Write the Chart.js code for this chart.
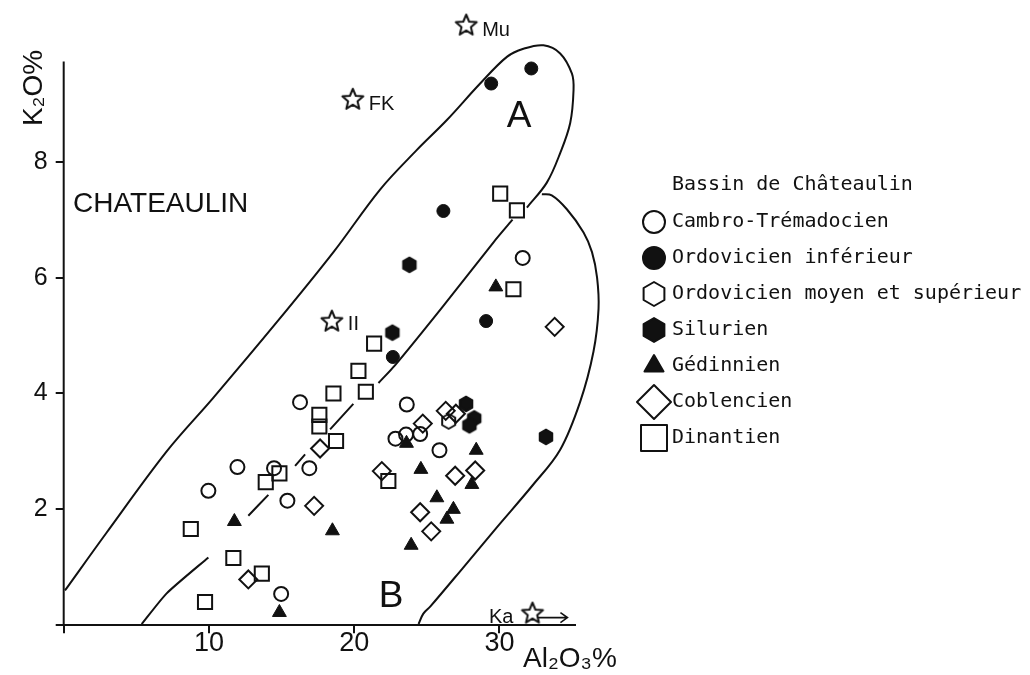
<!DOCTYPE html>
<html>
<head>
<meta charset="utf-8">
<script src="https://cdn.jsdelivr.net/npm/chart.js@4.4.1/dist/chart.umd.min.js"></script>
<style>
html,body{margin:0;padding:0;background:#fff;}
canvas{display:block;}
</style>
</head>
<body>
<canvas id="c" width="1030" height="675"></canvas>
<script>
// ---------- DATA (Al2O3 %, K2O %) ----------
const cambroTremadocien = [[31.6,6.34],[23.62,3.81],[22.84,3.22],[23.57,3.29],[24.54,3.30],[25.87,3.02],[9.96,2.32],[11.96,2.73],[14.97,0.54],[15.4,2.15],[14.48,2.71],[16.91,2.71],[16.27,3.85]];
const ordovicienInferieur = [[29.43,9.35],[32.19,9.61],[26.14,7.15],[29.08,5.25],[22.66,4.63]];
const ordovicienMoyenSup = [[26.5,3.52]];
const silurien = [[23.8,6.22],[22.63,5.05],[27.7,3.82],[28.26,3.57],[27.93,3.45],[33.2,3.25]];
const gedinnien = [[29.75,5.84],[23.6,3.14],[28.4,3.02],[24.59,2.69],[28.1,2.43],[25.69,2.20],[26.83,2.0],[26.38,1.83],[23.92,1.38],[18.5,1.63],[11.75,1.79],[14.85,0.22]];
const coblencien = [[33.8,5.15],[26.3,3.70],[27.0,3.65],[24.72,3.48],[28.33,2.67],[26.95,2.58],[21.9,2.66],[24.54,1.95],[25.3,1.62],[17.65,3.05],[17.24,2.06],[12.71,0.79]];
const dinantien = [[30.05,7.45],[31.2,7.16],[30.96,5.80],[21.37,4.86],[20.29,4.39],[18.57,4.0],[20.8,4.03],[17.6,3.63],[17.6,3.43],[18.75,3.18],[22.35,2.49],[8.75,1.66],[11.68,1.16],[13.64,0.89],[9.73,0.40],[13.91,2.47],[14.85,2.62]];
// reference minerals
const mineralNames = ['Mu','FK','II','Ka'];
const minerals = [[27.71,10.35],[19.9,9.07],[18.46,5.24],[32.27,0.20]];
// field boundaries
const boundaryA = [[0.09,0.60],[2.96,1.60],[7.09,3.0],[10.28,3.92],[14.67,5.23],[18.57,6.44],[21.78,7.52],[24.3,8.2],[26.38,8.72],[28.67,9.35],[30.51,9.81],[31.65,9.95],[33.03,10.01],[34.18,9.87],[34.99,9.52],[35.1,9.24],[34.87,8.67],[34.18,8.15],[33.26,7.64],[31.89,7.21]];
const boundaryAB = [[5.37,0.02],[7.09,0.55],[9.96,1.17],null,[12.71,1.89],[14.09,2.25],null,[15.93,2.75],[16.62,2.95],null,[18.34,3.38],[19.94,3.82],null,[21.67,4.18],[22.82,4.49],[26.0,5.47],[29.59,6.61],[30.9,7.0]];
const boundaryB = [[24.43,0.02],[24.76,0.2],[25.23,0.32],[27.52,1.0],[29.82,1.69],[32.3,2.42],[34.18,3.03],[35.56,3.86],[36.47,4.72],[36.82,5.46],[36.72,6.0],[36.37,6.44],[35.79,6.78],[34.64,7.18],[33.6,7.42],[32.92,7.44]];
const yAxisLine = [[0,0],[0,9.73]];
const xTicks = [0,10,20,30];
const yTicks = [0,2,4,6,8];
const legendTitle = 'Bassin de Châteaulin';

// ---------- helpers ----------
const pts = a => a.map(p => p ? {x:p[0], y:p[1]} : {x:null, y:null});
function shapePath(g, kind, x, y, r){
  g.beginPath();
  if (kind === 'circle') { g.arc(x, y, r, 0, Math.PI*2); }
  else if (kind === 'hex') {
    for (let i=0;i<6;i++){ const a = Math.PI/6 + i*Math.PI/3; const px=x+r*Math.cos(a), py=y+r*Math.sin(a); i?g.lineTo(px,py):g.moveTo(px,py); }
    g.closePath();
  } else if (kind === 'triangle') {
    for (let i=0;i<3;i++){ const a = -Math.PI/2 + i*2*Math.PI/3; const px=x+r*Math.cos(a), py=y+r*Math.sin(a); i?g.lineTo(px,py):g.moveTo(px,py); }
    g.closePath();
  } else if (kind === 'diamond') {
    g.moveTo(x, y-r); g.lineTo(x+r, y); g.lineTo(x, y+r); g.lineTo(x-r, y); g.closePath();
  } else if (kind === 'square') {
    g.rect(x-r, y-r, 2*r, 2*r);
  } else if (kind === 'star') {
    for (let i=0;i<10;i++){ const a = -Math.PI/2 + i*Math.PI/5; const rr = i%2 ? r*0.45 : r; const px=x+rr*Math.cos(a), py=y+rr*Math.sin(a); i?g.lineTo(px,py):g.moveTo(px,py); }
    g.closePath();
  }
}
function drawShape(g, kind, x, y, r, filled, lw){
  shapePath(g, kind, x, y, r);
  g.lineJoin = 'round';
  if (filled) { g.fillStyle = '#111'; g.fill(); }
  g.lineWidth = lw; g.strokeStyle = '#111'; g.stroke();
}
function shapeCanvas(kind, r, filled, lw){
  const s = Math.ceil(2*r + 2*lw + 4);
  const c = document.createElement('canvas'); c.width = s; c.height = s;
  drawShape(c.getContext('2d'), kind, s/2, s/2, r, filled, lw);
  return c;
}
const hexOpen = shapeCanvas('hex', 7.5, false, 2);
const hexFilled = shapeCanvas('hex', 7.5, true, 1.5);
const starImg = shapeCanvas('star', 11, false, 2);

const legendItems = [
  {label:'Cambro-Trémadocien', kind:'circle', r:11, filled:false},
  {label:'Ordovicien inférieur', kind:'circle', r:11, filled:true},
  {label:'Ordovicien moyen et supérieur', kind:'hex', r:12, filled:false},
  {label:'Silurien', kind:'hex', r:12, filled:true},
  {label:'Gédinnien', kind:'triangle', r:11, filled:true},
  {label:'Coblencien', kind:'diamond', r:17, filled:false},
  {label:'Dinantien', kind:'square', r:13, filled:false}
];

const pointDs = (label, data, style) => Object.assign({
  label, data: pts(data), showLine:false, clip:false,
  borderColor:'#111', backgroundColor:'rgba(0,0,0,0)', borderWidth:2, pointRadius:7
}, style);
const lineDs = (label, data, style) => Object.assign({
  label, data: pts(data), showLine:true, clip:false, pointRadius:0,
  borderColor:'#111', borderWidth:2, tension:0.35, spanGaps:false, fill:false
}, style);

// ---------- plugins ----------
const annotations = {
  id:'annotations',
  afterDatasetsDraw(chart){
    const {ctx} = chart; const xs = chart.scales.x, ys = chart.scales.y;
    ctx.save();
    ctx.fillStyle = '#111'; ctx.strokeStyle = '#111';
    // axis titles
    ctx.font = '28px "Liberation Sans",sans-serif';
    ctx.textAlign = 'left'; ctx.textBaseline = 'alphabetic';
    ctx.fillText('Al₂O₃%', 523, 667);
    ctx.save();
    ctx.translate(42, 88); ctx.rotate(-Math.PI/2);
    ctx.textAlign = 'center';
    ctx.fillText('K₂O%', 0, 0);
    ctx.restore();
    // basin name
    ctx.fillText('CHATEAULIN', 73, 212);
    // field labels
    ctx.font = '37px "Liberation Sans",sans-serif';
    ctx.textAlign = 'center';
    ctx.fillText('A', 519, 127);
    ctx.fillText('B', 391, 607);
    // mineral labels
    ctx.font = '20px "Liberation Sans",sans-serif';
    minerals.forEach((m, i) => {
      const px = xs.getPixelForValue(m[0]), py = ys.getPixelForValue(m[1]);
      const name = mineralNames[i];
      if (name === 'Ka') {
        ctx.textAlign = 'right';
        ctx.fillText(name, px - 19, py + 9);
        ctx.lineWidth = 1.6;
        ctx.beginPath();
        ctx.moveTo(px + 5, py + 4); ctx.lineTo(px + 35, py + 4);
        ctx.moveTo(px + 28, py - 1); ctx.lineTo(px + 35, py + 4); ctx.lineTo(px + 28, py + 9);
        ctx.stroke();
      } else {
        ctx.textAlign = 'left';
        ctx.fillText(name, px + 16, py + (name === 'II' ? 8 : 10));
      }
    });
    // legend
    const lx = 654, tx = 672;
    ctx.font = '20px "DejaVu Sans Mono",monospace';
    ctx.textAlign = 'left'; ctx.textBaseline = 'middle';
    ctx.fillText(legendTitle, tx, 185);
    legendItems.forEach((it, i) => {
      const cy = 222 + i*36;
      drawShape(ctx, it.kind, lx, cy, it.r, it.filled, 2);
      ctx.fillStyle = '#111';
      ctx.fillText(it.label, tx, cy);
    });
    ctx.restore();
  }
};

const noScalePad = s => { s.paddingTop = 0; s.paddingBottom = 0; s.paddingLeft = 0; s.paddingRight = 0; };

new Chart(document.getElementById('c'), {
  type:'scatter',
  data:{ datasets:[
    pointDs('Cambro-Trémadocien', cambroTremadocien, {pointStyle:'circle', pointRadius:7}),
    pointDs('Ordovicien inférieur', ordovicienInferieur, {pointStyle:'circle', pointRadius:6.5, backgroundColor:'#111', borderWidth:1}),
    pointDs('Ordovicien moyen et supérieur', ordovicienMoyenSup, {pointStyle:hexOpen}),
    pointDs('Silurien', silurien, {pointStyle:hexFilled}),
    pointDs('Gédinnien', gedinnien, {pointStyle:'triangle', pointRadius:8, backgroundColor:'#111', borderWidth:1}),
    pointDs('Coblencien', coblencien, {pointStyle:'rectRot', pointRadius:9}),
    pointDs('Dinantien', dinantien, {pointStyle:'rect', pointRadius:10}),
    pointDs('Minéraux', minerals, {pointStyle:starImg}),
    lineDs('Limite A', boundaryA, {}),
    lineDs('Limite A/B', boundaryAB, {tension:0.2}),
    lineDs('Limite B', boundaryB, {}),
    lineDs('Axe K2O', yAxisLine, {tension:0})
  ]},
  options:{
    responsive:false, devicePixelRatio:1, animation:false, events:[],
    layout:{padding:{top:8, right:455, left:0, bottom:0}},
    plugins:{legend:{display:false}, tooltip:{enabled:false}},
    scales:{
      x:{
        type:'linear', min:0, max:35.2,
        afterBuildTicks: s => { s.ticks = xTicks.map(v => ({value:v})); },
        afterFit: s => { s.height = 49.8; noScalePad(s); },
        grid:{drawOnChartArea:false, drawTicks:true, tickLength:8, color:'#111', lineWidth:2},
        border:{display:true, color:'#111', width:2},
        ticks:{color:'#111', padding:-3, font:{family:'"Liberation Sans",sans-serif', size:27, lineHeight:1}, maxRotation:0,
          callback: v => v === 0 ? '' : String(v)}
      },
      y:{
        type:'linear', min:0, max:10.585,
        afterBuildTicks: s => { s.ticks = yTicks.map(v => ({value:v})); },
        afterFit: s => { s.width = 63.7; noScalePad(s); },
        grid:{drawOnChartArea:false, drawTicks:true, tickLength:8, color:'#111', lineWidth:2},
        border:{display:false},
        ticks:{color:'#111', padding:8, font:{family:'"Liberation Sans",sans-serif', size:25, lineHeight:0.2},
          callback: v => v === 0 ? '' : String(v)}
      }
    }
  },
  plugins:[annotations]
});
</script>
</body>
</html>
